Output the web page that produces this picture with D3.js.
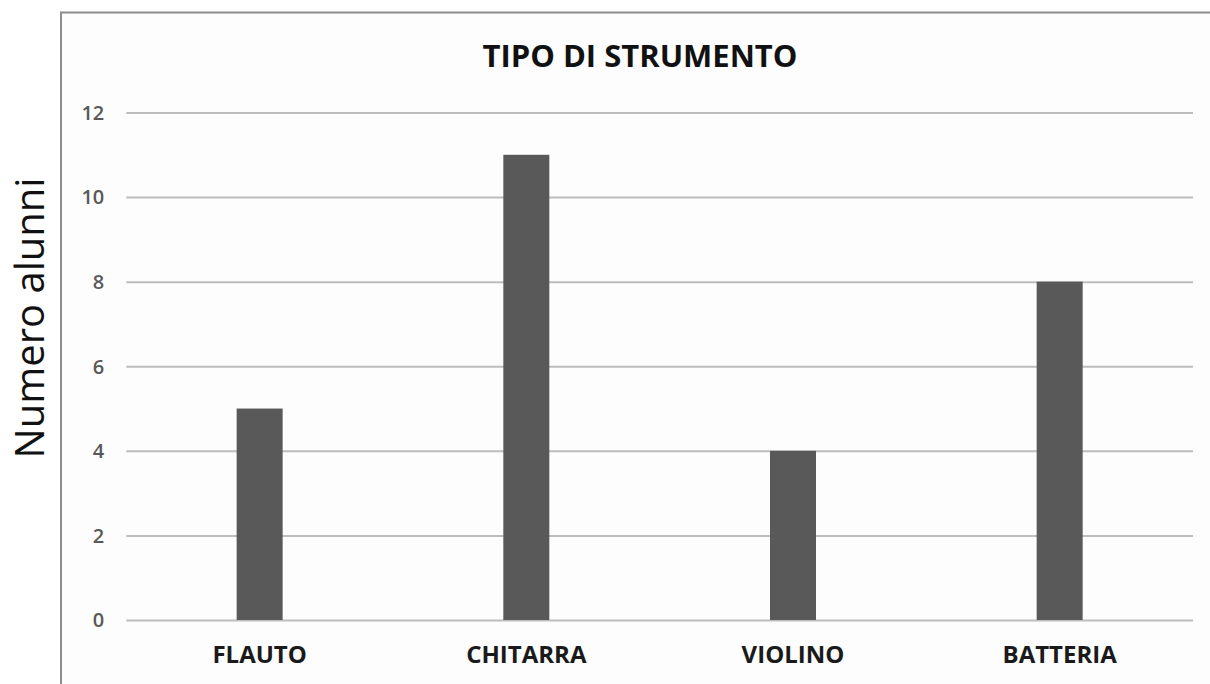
<!DOCTYPE html>
<html><head><meta charset="utf-8">
<script src="https://cdn.jsdelivr.net/npm/d3@7"></script>
<style>html,body{margin:0;padding:0;background:#fff;}svg{display:block;}</style>
</head><body>
<script>
const categories = ["FLAUTO", "CHITARRA", "VIOLINO", "BATTERIA"];
const values = [5, 11, 4, 8];
const yTicks = [0, 2, 4, 6, 8, 10, 12];
const chartTitle = "TIPO DI STRUMENTO";
const yTitle = "Numero alunni";

(function () {
const W = 1210, H = 684;
const svg = d3.select("body").append("svg").attr("width", W).attr("height", H);

// frame
svg.append("rect").attr("x", 61).attr("y", 12.5).attr("width", W).attr("height", H)
  .attr("fill", "#fdfdfd").attr("stroke", "#8c8c8c").attr("stroke-width", 2);

const pLeft = 126.3, pRight = 1193, pTop = 112.5, pBottom = 620;
const x = d3.scaleBand().domain(categories).range([pLeft, pRight])
  .paddingInner(0.8275).paddingOuter(0.8275 / 2);
const y = d3.scaleLinear().domain([0, 12]).range([pBottom, pTop]);

// gridlines via axis
const gy = svg.append("g").attr("transform", `translate(${pLeft},0)`)
  .call(d3.axisLeft(y).tickValues(yTicks).tickSize(-(pRight - pLeft)).tickFormat(d3.format("d")).tickPadding(22));
gy.select(".domain").remove();
gy.selectAll(".tick line").attr("stroke", "#bdbdbd").attr("stroke-width", 2);
gy.selectAll(".tick text").attr("fill", "#595959").attr("font-family", "'Open Sans', sans-serif")
  .attr("font-size", 20).attr("font-weight", 600).attr("dy", "0.34em");

// bars
svg.append("g").selectAll("rect").data(values).join("rect")
  .attr("x", (d, i) => x(categories[i]))
  .attr("width", x.bandwidth())
  .attr("y", d => y(d))
  .attr("height", d => y(0) - y(d))
  .attr("fill", "#595959");

// x axis labels
const gx = svg.append("g").attr("transform", `translate(0,${pBottom})`)
  .call(d3.axisBottom(x).tickSize(0).tickPadding(27));
gx.select(".domain").remove();
gx.selectAll(".tick text").attr("fill", "#1a1a1a").attr("font-family", "'Open Sans', sans-serif")
  .attr("font-weight", "bold").attr("font-size", 24).attr("dy", "0.68em");

// title
svg.append("text").attr("x", 640).attr("y", 67).attr("text-anchor", "middle")
  .attr("font-family", "'Open Sans', sans-serif").attr("font-weight", "bold")
  .attr("font-size", 31).attr("fill", "#111").text(chartTitle);

// y title
svg.append("text").attr("transform", "translate(44,318) rotate(-90)").attr("text-anchor", "middle")
  .attr("font-family", "'Open Sans', sans-serif").attr("font-size", 40)
  .attr("fill", "#111").text(yTitle);
})();
</script>
</body></html>
